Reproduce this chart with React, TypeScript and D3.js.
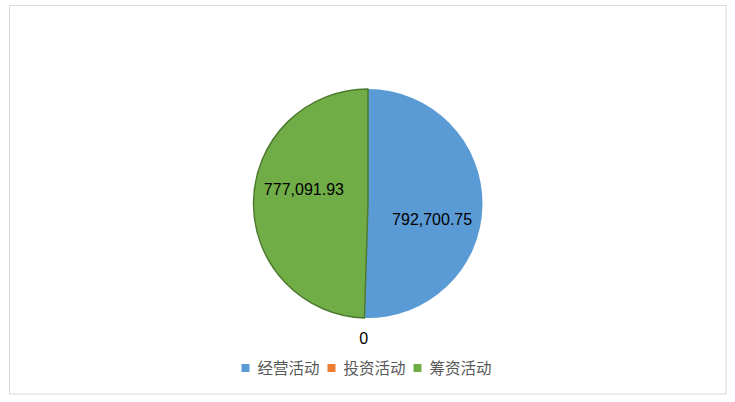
import React, { useEffect, useRef } from "react";
import * as d3 from "d3";

// data
const categories = ["经营活动", "投资活动", "筹资活动"];
const values = [792700.75, 0, 777091.93];
const colors = ["#5B9BD5", "#ED7D31", "#70AD47"];
const strokes = ["none", "none", "#4E7A2F"];

const W = 735;
const H = 402;

export default function App() {
    const ref = useRef<SVGSVGElement>(null);

    useEffect(() => {
        if (!ref.current) return;
        const svg = d3.select(ref.current);
        svg.selectAll("*").remove();

        // chart border
        svg.append("rect")
            .attr("x", 9.5)
            .attr("y", 5.5)
            .attr("width", 716.5)
            .attr("height", 388.5)
            .attr("fill", "white")
            .attr("stroke", "#d9d9d9")
            .attr("stroke-width", 1);

        const cx = 368;
        const cy = 203.5;
        const R = 114.5;

        const pie = d3.pie<number>().sort(null).value((d) => d);
        const arcs = pie(values);
        const arc = d3.arc<d3.PieArcDatum<number>>().innerRadius(0).outerRadius(R);
        const labelArc = d3.arc<d3.PieArcDatum<number>>().innerRadius(R * 0.56).outerRadius(R * 0.56);
        const outerArc = d3.arc<d3.PieArcDatum<number>>().innerRadius(R + 20).outerRadius(R + 20);

        const g = svg.append("g").attr("transform", `translate(${cx},${cy})`);

        // slices
        g.selectAll("path")
            .data(arcs)
            .join("path")
            .attr("d", arc)
            .attr("fill", (_, i) => colors[i])
            .attr("stroke", (_, i) => strokes[i])
            .attr("stroke-width", 1.5)
            .attr("stroke-linejoin", "round");

        // data labels
        const fmt = (v: number) => (v === 0 ? "0" : d3.format(",.2f")(v));
        const nudge = [15, 0, -13];
        g.selectAll("text.lbl")
            .data(arcs)
            .join("text")
            .attr("class", "lbl")
            .attr("transform", (d, i) => {
                const [x, y] = d.value === 0 ? outerArc.centroid(d) : labelArc.centroid(d);
                return `translate(${x},${y + nudge[i]})`;
            })
            .attr("text-anchor", "middle")
            .attr("dy", "0.36em")
            .attr("font-family", "'Liberation Sans', Arial, sans-serif")
            .attr("font-size", 16)
            .attr("fill", "#000")
            .text((d) => fmt(d.value));

        // legend
        const legendY = 368;
        const itemX = [241.5, 327.5, 413.5];
        const legend = svg.append("g");
        const item = legend
            .selectAll("g")
            .data(categories)
            .join("g")
            .attr("transform", (_, i) => `translate(${itemX[i]},${legendY})`);
        item.append("rect")
            .attr("x", 0)
            .attr("y", -4)
            .attr("width", 8)
            .attr("height", 8)
            .attr("fill", (_, i) => colors[i]);
        item.append("text")
            .attr("x", 16)
            .attr("dy", "0.36em")
            .attr("font-family", "'Noto Sans CJK SC', sans-serif")
            .attr("font-size", 15.5)
            .attr("fill", "#595959")
            .text((d) => d);
    }, []);

    return (
        <div style={{ position: "fixed", left: 0, top: 0 }}>
            <svg ref={ref} width={W} height={H} style={{ display: "block", background: "white" }} />
        </div>
    );
}
